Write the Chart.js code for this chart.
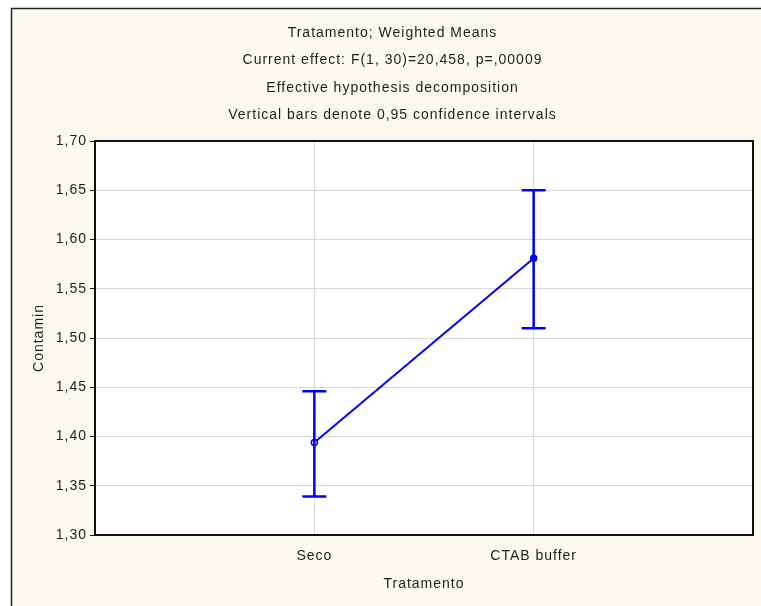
<!DOCTYPE html>
<html>
<head>
<meta charset="utf-8">
<script src="https://cdn.jsdelivr.net/npm/chart.js@4/dist/chart.umd.min.js"></script>
<style>
  body { margin: 0; background: #ffffff; }
  #myChart { display: block; }
</style>
</head>
<body>
<canvas id="myChart" width="761" height="606"></canvas>
<script>
// values
categories = ['Seco', 'CTAB buffer'];
means = [1.394, 1.581];
lower = [1.339, 1.510];
upper = [1.446, 1.650];
titleLines = [
  'Tratamento; Weighted Means',
  'Current effect: F(1, 30)=20,458, p=,00009',
  'Effective hypothesis decomposition',
  'Vertical bars denote 0,95 confidence intervals'
];
yMin = 1.30;
yMax = 1.70;
yStep = 0.05;

fontFamily = "'Liberation Sans', Arial, sans-serif";
fontSize = 14;
textColor = '#1e1e1e';

function commaNumber(v) {
  return v.toFixed(2).replace('.', ',');
}

// the old statistics package spaces its letters out a bit
const spacingPlugin = {
  id: 'spacing',
  beforeUpdate(chart) { chart.ctx.letterSpacing = '1px'; },
  beforeDraw(chart) { chart.ctx.letterSpacing = '1px'; }
};

// background, outer frame and white plot area
const backgroundPlugin = {
  id: 'background',
  beforeDraw(chart) {
    const ctx = chart.ctx;
    const area = chart.chartArea;
    ctx.save();
    ctx.fillStyle = '#fdf9ee';
    ctx.fillRect(11, 8, chart.width - 11, chart.height - 8);
    ctx.strokeStyle = '#222';
    ctx.lineWidth = 1.5;
    ctx.beginPath();
    ctx.moveTo(11.5, chart.height);
    ctx.lineTo(11.5, 8.5);
    ctx.lineTo(chart.width, 8.5);
    ctx.stroke();
    ctx.fillStyle = '#ffffff';
    ctx.fillRect(area.left, area.top, area.right - area.left, area.bottom - area.top);
    ctx.restore();
  },
  afterDraw(chart) {
    const ctx = chart.ctx;
    const area = chart.chartArea;
    ctx.save();
    ctx.strokeStyle = '#111';
    ctx.lineWidth = 2;
    ctx.strokeRect(area.left, area.top, area.right - area.left, area.bottom - area.top);
    ctx.restore();
  }
};

// confidence interval whiskers
const errorBarPlugin = {
  id: 'errorBars',
  afterDatasetsDraw(chart) {
    const ctx = chart.ctx;
    const xs = chart.scales.x;
    const ys = chart.scales.y;
    ctx.save();
    ctx.strokeStyle = '#0000ff';
    ctx.lineWidth = 2.5;
    for (i = 0; i < categories.length; i++) {
      const px = xs.getPixelForValue(i + 1);
      const top = ys.getPixelForValue(upper[i]);
      const bottom = ys.getPixelForValue(lower[i]);
      ctx.beginPath();
      ctx.moveTo(px, top);
      ctx.lineTo(px, bottom);
      ctx.moveTo(px - 12, top);
      ctx.lineTo(px + 12, top);
      ctx.moveTo(px - 12, bottom);
      ctx.lineTo(px + 12, bottom);
      ctx.stroke();
    }
    ctx.restore();
  }
};

const data = {
  datasets: [{
    label: 'Contamin',
    data: categories.map((c, i) => ({x: i + 1, y: means[i]})),
    borderColor: '#0000ff',
    borderWidth: 2,
    pointRadius: 3,
    pointBorderWidth: 1.5,
    pointBorderColor: '#0000ff',
    pointBackgroundColor: ['#ffffff', '#0000ff'],
    showLine: true,
    tension: 0
  }]
};

const config = {
  type: 'scatter',
  data: data,
  options: {
    responsive: false,
    animation: false,
    layout: {
      // left padding is wide so the title centres where the original does
      padding: {top: 0, left: 32, right: 8, bottom: 0}
    },
    plugins: {
      legend: { display: false },
      tooltip: { enabled: false },
      title: {
        display: true,
        text: titleLines,
        color: textColor,
        font: { family: fontFamily, size: fontSize, weight: 'normal', lineHeight: '27.5px' },
        padding: { top: 19.25, bottom: 11.75 }
      }
    },
    scales: {
      x: {
        type: 'linear',
        min: 0,
        max: 3,
        afterFit(scale) {
          scale.height = 71;
          scale.paddingLeft = 0;
          scale.paddingRight = 0;
        },
        border: { display: false },
        grid: { color: '#d9d9d9', drawTicks: false },
        ticks: {
          stepSize: 1,
          padding: 13,
          color: textColor,
          font: { family: fontFamily, size: fontSize },
          callback: (v) => categories[v - 1] || ''
        },
        title: {
          display: true,
          text: 'Tratamento',
          color: textColor,
          font: { family: fontFamily, size: fontSize },
          padding: { top: 0, bottom: 13 }
        }
      },
      y: {
        min: yMin,
        max: yMax,
        afterFit(scale) { scale.width = 63; },
        border: { display: false },
        grid: { color: '#d9d9d9', tickColor: '#111', tickLength: 5 },
        ticks: {
          stepSize: yStep,
          padding: 3,
          color: textColor,
          font: { family: fontFamily, size: fontSize },
          callback: (v) => commaNumber(v)
        },
        title: {
          display: true,
          text: 'Contamin',
          color: textColor,
          font: { family: fontFamily, size: fontSize },
          padding: { top: -1, bottom: 0 }
        }
      }
    }
  },
  plugins: [spacingPlugin, backgroundPlugin, errorBarPlugin]
};

const myChart = new Chart(
  document.getElementById('myChart'),
  config
);
</script>
</body>
</html>
